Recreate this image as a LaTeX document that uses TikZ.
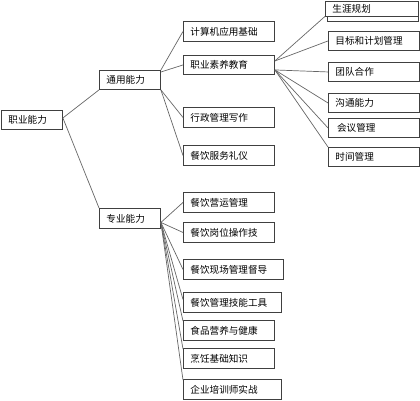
\documentclass[tikz,border=0pt]{standalone}
\usepackage{fontspec}
\newfontfamily\cjk{Noto Sans CJK SC}
\begin{document}
\begin{tikzpicture}[x=1pt, y=-1pt,
    box/.style={draw=black!75, line width=0.9pt, fill=white, anchor=north west,
        inner xsep=7pt, inner ysep=0pt, align=left, font=\cjk\fontsize{9.6}{11}\selectfont},
    link/.style={draw=black!60, line width=0.7pt}]
    \useasboundingbox (0,0) rectangle (420,400);

    % Root and first level
    \node[box, text width=47, minimum height=19] (root) at (1,110) {职业能力};
    \node[box, text width=47, minimum height=19] (ty) at (99,70) {通用能力};
    \node[box, text width=47, minimum height=20] (zy) at (99,208) {专业能力};

    % General skills
    \foreach \n/\y/\h/\t in {jsj/21/20/计算机应用基础, zysy/55/19/职业素养教育,
        xz/107/20/行政管理写作, cyfw/145/20/餐饮服务礼仪} {
        \node[box, text width=77, minimum height=\h] (\n) at (183,\y) {\t};
    }

    % Professional skills
    \foreach \n/\y/\w/\t in {yy/192/77/餐饮营运管理, gw/222/77/餐饮岗位操作技,
        xc/259/86/餐饮现场管理督导, jn/292/84/餐饮管理技能工具, sp/320/77/食品营养与健康,
        pr/348/77/烹饪基础知识, px/379/84/企业培训师实战} {
        \node[box, text width=\w, minimum height=20] (\n) at (183,\y) {\t};
    }

    % Professional quality topics
    \draw[draw=black!75, line width=0.9pt] (327,3) rectangle (418,21);
    \node[box, text width=79, minimum height=15] (syg) at (325,0.5) {生涯规划};
    \foreach \n/\y/\t in {mb/31/目标和计划管理, td/62/团队合作, gt/93/沟通能力,
        hy/118/\,会议管理, sj/147/时间管理} {
        \node[box, text width=77, minimum height=19] (\n) at (328,\y) {\t};
    }

    % Links
    \draw[link] ([yshift=2pt]root.east) -- (ty.south west);
    \draw[link] ([yshift=2pt]root.east) -- (zy.north west);
    \draw[link] (ty.north east) -- (jsj.west);
    \draw[link] ([yshift=-2pt]ty.north east) -- (zysy.west);
    \draw[link] (ty.south east) -- (xz.west);
    \draw[link] (ty.south east) -- (cyfw.west);
    \foreach \n in {yy, gw, xc} {
        \draw[link] ([yshift=-4pt]zy.east) -- (\n.west);
    }
    \draw[link] ([yshift=-4pt]zy.east) -- ([yshift=3pt]jn.west);
    \foreach \n in {sp, pr, px} {
        \draw[link] ([yshift=-4pt]zy.east) -- ([yshift=-1pt]\n.north west);
    }
    \draw[link] ([yshift=4pt]zysy.east) -- (syg.south west);
    \draw[link] ([yshift=4pt]zysy.east) -- (mb.west);
    \foreach \n in {td, gt, hy} {
        \draw[link] ([yshift=-5pt]zysy.east) -- (\n.west);
    }
    \draw[link] ([yshift=-5pt]zysy.east) -- (sj.north west);
\end{tikzpicture}
\end{document}
